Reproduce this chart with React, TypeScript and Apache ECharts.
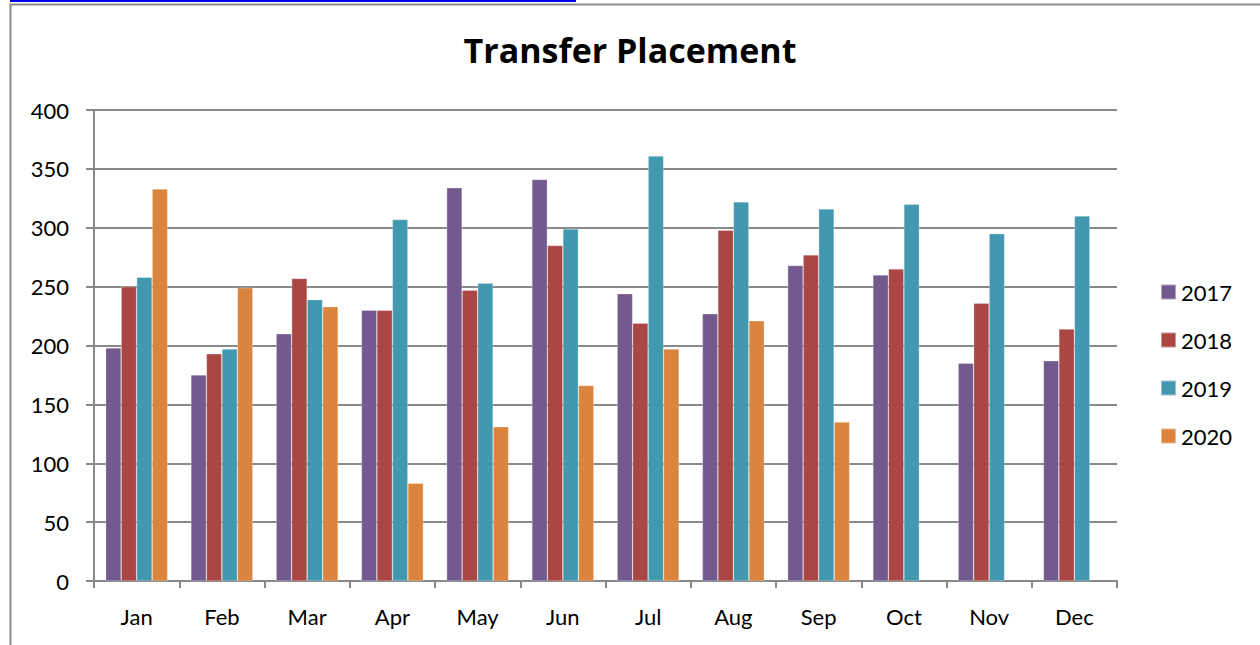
import React, { useEffect, useRef } from "react";
import * as echarts from "echarts";

const months = ["Jan", "Feb", "Mar", "Apr", "May", "Jun", "Jul", "Aug", "Sep", "Oct", "Nov", "Dec"];
const years = ["2017", "2018", "2019", "2020"];
const v2017 = [198, 175, 210, 230, 334, 341, 244, 227, 268, 260, 185, 187];
const v2018 = [250, 193, 257, 230, 247, 285, 219, 298, 277, 265, 236, 214];
const v2019 = [258, 197, 239, 307, 253, 299, 361, 322, 316, 320, 295, 310];
const v2020 = [333, 249, 233, 83, 131, 166, 197, 221, 135, null, null, null];
const colors = ["#725A8F", "#AA4643", "#4298AF", "#DB843D"];

export default function App() {
  const ref = useRef<HTMLDivElement>(null);
  useEffect(() => {
    const chart = echarts.init(ref.current!, null, { renderer: "svg" });
    const font = "Lato, 'Open Sans', sans-serif";
    const values = [v2017, v2018, v2019, v2020];
    chart.setOption({
      animation: false,
      backgroundColor: "#ffffff",
      color: colors,
      title: {
        text: "Transfer Placement",
        left: "center",
        top: 28,
        textStyle: { fontFamily: "'Open Sans', sans-serif", fontSize: 34, fontWeight: "bold", color: "#000" },
      },
      legend: {
        orient: "vertical",
        left: 1155,
        top: 276,
        itemWidth: 15,
        itemHeight: 15,
        itemGap: 26,
        icon: "rect",
        textStyle: { fontFamily: font, fontSize: 22, color: "#000", lineHeight: 22 },
        data: years,
      },
      grid: { left: 94, right: 143, top: 110, bottom: 64, containLabel: false },
      xAxis: {
        type: "category",
        data: months,
        axisLine: { lineStyle: { color: "#898989", width: 2 } },
        axisTick: { show: true, alignWithLabel: false, length: 7, lineStyle: { color: "#898989", width: 2 } },
        axisLabel: { fontFamily: font, fontSize: 22, color: "#000", margin: 24 },
        splitLine: { show: false },
      },
      yAxis: {
        type: "value",
        min: 0,
        max: 400,
        interval: 50,
        axisLine: { show: true, lineStyle: { color: "#898989", width: 2 } },
        axisTick: { show: true, length: 8, lineStyle: { color: "#898989", width: 2 } },
        axisLabel: { fontFamily: font, fontSize: 22, color: "#000", margin: 25 },
        splitLine: { show: true, lineStyle: { color: "#898989", width: 2 } },
      },
      series: years.map((y, i) => ({
        name: y,
        type: "bar",
        data: values[i],
        barWidth: 15.5,
        barGap: "0%",
        itemStyle: { color: colors[i], borderColor: "rgba(255,255,255,0.45)", borderWidth: 0.6 },
      })),
      graphic: [
        {
          type: "rect",
          shape: { x: 10.5, y: 4.5, width: 1300, height: 700 },
          style: { fill: "none", stroke: "#8a8a8a", lineWidth: 2 },
          silent: true,
        },
        {
          type: "line",
          shape: { x1: 10, y1: 1, x2: 576, y2: 1 },
          style: { stroke: "#0000ee", lineWidth: 2 },
          silent: true,
        },
      ],
    });
    return () => chart.dispose();
  }, []);
  return (
    <div
      ref={ref}
      style={{ position: "fixed", left: 0, top: 0, width: 1260, height: 645, background: "#fff" }}
    />
  );
}
